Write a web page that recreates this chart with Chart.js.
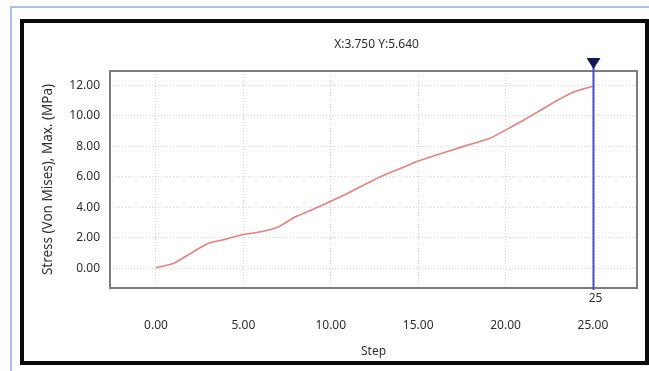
<!DOCTYPE html>
<html>
<head>
<meta charset="utf-8">
<script src="https://cdn.jsdelivr.net/npm/chart.js@4.4.0/dist/chart.umd.min.js"></script>
<style>
  html, body { margin: 0; padding: 0; background: #fff; overflow: hidden; }
  #wrap { position: relative; width: 649px; height: 371px; }
  #blueFrame { position: absolute; left: 10px; top: 6px; width: 700px; height: 400px; border: 2px solid #a9c1ea; box-sizing: border-box; }
  #blackFrame { position: absolute; left: 20px; top: 19px; width: 629px; height: 346px; border: 4px solid #0a0a0a; box-sizing: border-box; }
  canvas { position: absolute; left: 0; top: 0; }
</style>
</head>
<body>
<div id="wrap">
  <div id="blueFrame"></div>
  <div id="blackFrame"></div>
  <canvas id="stressChart" width="649" height="371"></canvas>
</div>
<script>
// --- données ---
const steps = [0, 1, 2, 3, 4, 5, 6, 7, 8, 9, 10, 11, 12, 13, 14, 15, 16, 17, 18, 19, 20, 21, 22, 23, 24, 25];
const stress = [0.05, 0.33, 1.0, 1.65, 1.92, 2.22, 2.4, 2.72, 3.4, 3.88, 4.4, 4.94, 5.53, 6.09, 6.56, 7.03, 7.41, 7.78, 8.14, 8.47, 9.06, 9.69, 10.36, 11.03, 11.6, 11.93];
const cursorStep = 25;
const cursorLabel = '25';
const titleText = 'X:3.750 Y:5.640';
const xTitle = 'Step';
const yTitle = 'Stress (Von Mises), Max. (MPa)';

const FONT = "'Noto Sans', 'Open Sans', sans-serif";
const TEXT = '#2e2e2e';

// cadre du graphe, titre centré sur la zone de tracé + curseur bleu
const cursorPlugin = {
    id: 'cursor',
    afterDraw(chart) {
        const { ctx, chartArea, scales } = chart;
        ctx.save();
        ctx.strokeStyle = '#7d7d7d';
        ctx.lineWidth = 2;
        ctx.strokeRect(chartArea.left, chartArea.top, chartArea.right - chartArea.left, chartArea.bottom - chartArea.top);

        ctx.fillStyle = TEXT;
        ctx.font = "12px " + FONT;
        ctx.textAlign = 'center';
        ctx.textBaseline = 'middle';
        ctx.fillText(titleText, (chartArea.left + chartArea.right) / 2 + 3, chartArea.top - 26);

        const x = Math.round(scales.x.getPixelForValue(cursorStep)) + 0.5;
        ctx.strokeStyle = '#4b4bcf';
        ctx.lineWidth = 2;
        ctx.beginPath();
        ctx.moveTo(x, chartArea.top - 10);
        ctx.lineTo(x, chartArea.bottom + 2);
        ctx.stroke();

        ctx.fillStyle = '#141850';
        ctx.beginPath();
        ctx.moveTo(x - 7, chartArea.top - 13);
        ctx.lineTo(x + 7, chartArea.top - 13);
        ctx.lineTo(x, chartArea.top - 2);
        ctx.closePath();
        ctx.fill();

        ctx.fillStyle = TEXT;
        ctx.font = "12px " + FONT;
        ctx.fillText(cursorLabel, x + 2, chartArea.bottom + 11);
        ctx.restore();
    }
};

const ctx = document.getElementById('stressChart').getContext('2d');
new Chart(ctx, {
    type: 'line',
    data: {
        datasets: [{
            data: steps.map((s, i) => ({ x: s, y: stress[i] })),
            borderColor: '#e5817f',
            borderWidth: 1.6,
            pointRadius: 0,
            tension: 0.2,
            fill: false
        }]
    },
    options: {
        responsive: false,
        animation: false,
        layout: { padding: { left: 40, right: 12, top: 71, bottom: 12 } },
        plugins: {
            legend: { display: false },
            tooltip: { enabled: false },
            title: { display: false }
        },
        scales: {
            x: {
                type: 'linear',
                min: -2.63,
                max: 27.52,
                afterFit: (s) => { s.height = 71; },
                grid: { color: '#d9d9d9', drawTicks: false },
                border: { display: false, dash: [1, 2] },
                ticks: {
                    stepSize: 5,
                    includeBounds: false,
                    padding: 30,
                    color: TEXT,
                    font: { family: FONT, size: 12 },
                    callback: (v) => v.toFixed(2)
                },
                title: { display: true, text: xTitle, color: TEXT, font: { family: FONT, size: 12 }, padding: 0 }
            },
            y: {
                min: -1.28,
                max: 12.93,
                afterFit: (s) => { s.width = 70; },
                grid: { color: '#d9d9d9', drawTicks: false },
                border: { display: false, dash: [1, 2] },
                ticks: {
                    stepSize: 2,
                    includeBounds: false,
                    padding: 10,
                    color: TEXT,
                    font: { family: FONT, size: 12 },
                    callback: (v) => v.toFixed(2)
                },
                title: { display: true, text: yTitle, color: TEXT, font: { family: FONT, size: 13.5 }, padding: 0 }
            }
        }
    },
    plugins: [cursorPlugin]
});
</script>
</body>
</html>
